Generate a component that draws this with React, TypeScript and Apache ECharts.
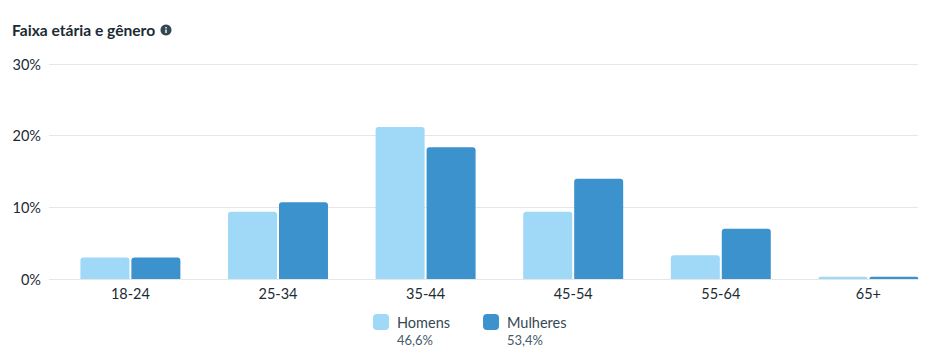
import React, { useEffect, useRef } from "react";
import * as echarts from "echarts";

const categories = ["18-24", "25-34", "35-44", "45-54", "55-64", "65+"];
const homens = [3.0, 9.4, 21.2, 9.4, 3.3, 0.3];
const mulheres = [3.0, 10.7, 18.4, 14.0, 7.0, 0.3];
const seriesNames = ["Homens", "Mulheres"];
const shares = ["46,6%", "53,4%"];
const title = "Faixa etária e gênero";
const FONT = "Lato, 'Noto Sans', sans-serif";
const TEXT = "#1c2b33";
const LIGHT = "#a0d8f7";
const DARK = "#3c92cc";

export default function App() {
  const ref = useRef<HTMLDivElement>(null);
  useEffect(() => {
    document.body.style.margin = "0";
    const chart = echarts.init(ref.current!, undefined, { renderer: "svg" });
    chart.setOption({
      animation: false,
      textStyle: { fontFamily: FONT },
      title: {
        text: title,
        left: 12,
        top: 21,
        padding: 0,
        textStyle: { fontFamily: FONT, fontSize: 15.6, fontWeight: 700, color: TEXT, lineHeight: 18 },
      },
      grid: [
        { left: 49, top: 64, width: 869, height: 215 },
        { left: 56.6, top: 64, width: 885.6, height: 215 },
      ],
      xAxis: [
        { type: "value", gridIndex: 0, show: false, min: 0, max: 1 },
        {
          type: "category",
          gridIndex: 1,
          data: categories,
          axisLine: { show: false },
          axisTick: { show: false },
          axisLabel: { color: TEXT, fontSize: 14.5, fontFamily: FONT, margin: 7 },
        },
      ],
      yAxis: [
        {
          type: "value",
          gridIndex: 0,
          min: 0,
          max: 30,
          interval: 10,
          axisLine: { show: false },
          axisTick: { show: false },
          axisLabel: { formatter: "{value}%", color: TEXT, fontSize: 14.5, fontFamily: FONT, margin: 8 },
          splitLine: { lineStyle: { color: "#e4e6e8", width: 1 } },
        },
        { type: "value", gridIndex: 1, min: 0, max: 30, interval: 10, show: false, splitLine: { show: false } },
      ],
      legend: {
        left: 373,
        top: 314,
        padding: 0,
        itemWidth: 16,
        itemHeight: 16,
        itemGap: 33,
        icon: "roundRect",
        data: seriesNames,
        textStyle: { color: "#344854", fontSize: 14.5, fontFamily: FONT, padding: [0, 0, 0, 3] },
      },
      series: [
        {
          name: seriesNames[0],
          type: "bar",
          xAxisIndex: 1,
          yAxisIndex: 1,
          data: homens,
          barWidth: 49,
          barGap: "4%",
          itemStyle: { color: LIGHT, borderRadius: [3, 3, 0, 0] },
        },
        {
          name: seriesNames[1],
          type: "bar",
          xAxisIndex: 1,
          yAxisIndex: 1,
          data: mulheres,
          barWidth: 49,
          barGap: "4%",
          itemStyle: { color: DARK, borderRadius: [3, 3, 0, 0] },
        },
      ],
      graphic: [
        { type: "circle", shape: { cx: 166, cy: 30, r: 5.5 }, style: { fill: "#344854" } },
        { type: "rect", shape: { x: 165.3, y: 29.5, width: 1.4, height: 3.5 }, style: { fill: "#fff" } },
        { type: "rect", shape: { x: 165.3, y: 27, width: 1.4, height: 1.4 }, style: { fill: "#fff" } },
        {
          type: "text",
          x: 397,
          y: 333,
          style: { text: shares[0], fill: "#465a69", font: `13px ${FONT}` },
        },
        {
          type: "text",
          x: 507,
          y: 333,
          style: { text: shares[1], fill: "#465a69", font: `13px ${FONT}` },
        },
      ],
    });
    return () => chart.dispose();
  }, []);
  return (
    <div style={{ width: 932, height: 357, overflow: "hidden" }}>
      <div ref={ref} style={{ width: 960, height: 357 }} />
    </div>
  );
}
